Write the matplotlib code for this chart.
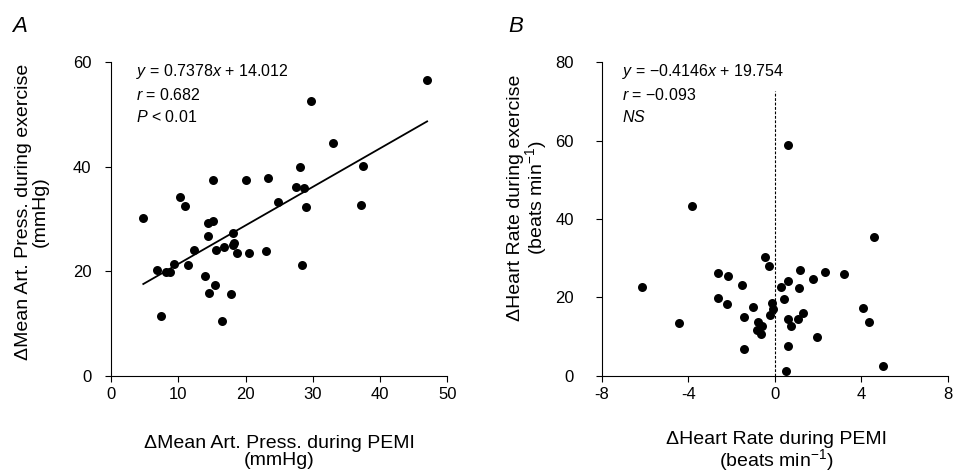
import matplotlib
matplotlib.use("Agg")
import matplotlib.pyplot as plt
import numpy as np

plt.rcParams['font.family'] = ['Liberation Sans', 'DejaVu Sans']
plt.rcParams['mathtext.fontset'] = 'custom'
plt.rcParams['mathtext.rm'] = 'Liberation Sans'
plt.rcParams['mathtext.it'] = 'Liberation Sans:italic'
plt.rcParams['mathtext.bf'] = 'Liberation Sans:bold'

# Panel A data: ΔMAP during PEMI (x) vs ΔMAP during exercise (y)
map_pemi = [47.0, 29.7, 33.0, 28.1, 37.5, 15.2, 20.0, 23.3, 27.5, 28.7,
            10.3, 11.0, 24.8, 29.0, 37.2, 4.8, 14.4, 15.2, 14.4, 18.1,
            18.3, 18.2, 12.4, 15.6, 16.8, 18.8, 20.5, 23.0, 9.3, 11.4,
            28.4, 6.9, 8.2, 8.8, 14.0, 15.4, 14.5, 17.8, 7.5, 16.5]
map_ex = [56.7, 52.6, 44.5, 39.9, 40.1, 37.5, 37.5, 37.9, 36.1, 36.0,
          34.3, 32.5, 33.3, 32.3, 32.6, 30.1, 29.2, 29.7, 26.8, 27.4,
          25.5, 25.1, 24.1, 24.1, 24.7, 23.4, 23.4, 23.9, 21.4, 21.1,
          21.1, 20.2, 19.8, 19.8, 19.0, 17.4, 15.8, 15.6, 11.4, 10.5]
slope_a, intercept_a = 0.7378, 14.012

# Panel B data: ΔHR during PEMI (x) vs ΔHR during exercise (y)
hr_pemi = [0.63, -3.81, 4.59, -0.45, -0.28, -2.60, -2.16, 1.17, 2.34, 3.19,
           0.63, 1.79, -6.12, -1.49, 0.28, 1.12, -2.62, 0.45, -2.22, -0.14,
           -0.99, -0.08, 4.07, -0.22, 1.31, -1.42, 0.60, 1.08, -0.79, -4.41,
           4.36, -0.57, 0.74, -0.83, -0.65, 1.96, 0.63, -1.42, 4.99, 0.51]
hr_ex = [58.9, 43.3, 35.4, 30.2, 27.9, 26.3, 25.4, 27.0, 26.4, 26.0,
         24.3, 24.7, 22.6, 23.2, 22.7, 22.4, 19.9, 19.6, 18.3, 18.5,
         17.6, 17.1, 17.2, 15.6, 16.1, 15.1, 14.4, 14.4, 13.8, 13.4,
         13.6, 12.7, 12.6, 11.6, 10.6, 9.8, 7.7, 6.7, 2.6, 1.2]

W, H = 955, 474
fig = plt.figure(figsize=(W / 100, H / 100), dpi=100)

def px_axes(l, r, t, b):
    return fig.add_axes([l / W, 1 - b / H, (r - l) / W, (b - t) / H])

axA = px_axes(111, 447.3, 62.3, 375.7)
axB = px_axes(601.7, 947.7, 62.3, 375.7)

for ax in (axA, axB):
    for s in ('top', 'right'):
        ax.spines[s].set_visible(False)
    for s in ('left', 'bottom'):
        ax.spines[s].set_linewidth(0.8)
    ax.tick_params(direction='out', length=4, width=0.8, labelsize=12)

# Panel A
axA.scatter(map_pemi, map_ex, s=42, color='black', zorder=3, linewidths=0)
xa = np.array([min(map_pemi), max(map_pemi)])
axA.plot(xa, slope_a * xa + intercept_a, color='black', lw=1.3)
axA.set_xlim(0, 50)
axA.set_ylim(0, 60)
axA.set_xticks([0, 10, 20, 30, 40, 50])
axA.set_yticks([0, 20, 40, 60])
axA.tick_params(axis='y', pad=10)
axA.tick_params(axis='x', pad=4)
axA.text(0.075, 1.0, r"$y$ = 0.7378$x$ + 14.012" + "\n" + r"$r$ = 0.682" + "\n" + r"$P$ < 0.01",
         transform=axA.transAxes, fontsize=11.5, va='top', ha='left', linespacing=1.45)

# Panel B
axB.scatter(hr_pemi, hr_ex, s=42, color='black', zorder=3, linewidths=0)
axB.plot([0, 0], [0, 72.8], color='black', lw=0.8, ls=(0, (2.5, 1.5)))
axB.set_xlim(-8, 8)
axB.set_ylim(0, 80)
axB.set_xticks([-8, -4, 0, 4, 8])
axB.set_xticklabels(['-8', '-4', '0', '4', '8'])
axB.set_yticks([0, 20, 40, 60, 80])
axB.tick_params(axis='y', pad=16)
axB.tick_params(axis='x', pad=4)
axB.text(0.06, 1.0, "$y$ = \u22120.4146$x$ + 19.754" + "\n" + "$r$ = \u22120.093" + "\n" + "$NS$",
         transform=axB.transAxes, fontsize=11.5, va='top', ha='left', linespacing=1.45)

# Panel letters
fig.text(12 / W, 1 - 32 / H, "A", fontsize=16, style='italic', ha='left', va='baseline')
fig.text(508 / W, 1 - 32 / H, "B", fontsize=16, style='italic', ha='left', va='baseline')

# Axis labels
fig.text(32 / W, 1 - 212 / H, "\u0394Mean Art. Press. during exercise\n(mmHg)",
         rotation=90, ha='center', va='center', multialignment='center', fontsize=14, linespacing=1.0)
fig.text(279 / W, 1 - 452 / H, "\u0394Mean Art. Press. during PEMI\n(mmHg)",
         ha='center', va='center', multialignment='center', fontsize=14, linespacing=1.0)
fig.text(528 / W, 1 - 198 / H, "\u0394Heart Rate during exercise\n(beats min$^{\\mathrm{-1}}$)",
         rotation=90, ha='center', va='center', multialignment='center', fontsize=14, linespacing=1.0)
fig.text(776 / W, 1 - 452 / H, "\u0394Heart Rate during PEMI\n(beats min$^{\\mathrm{-1}}$)",
         ha='center', va='center', multialignment='center', fontsize=14, linespacing=1.0)

fig.savefig("out.png", dpi=100)
